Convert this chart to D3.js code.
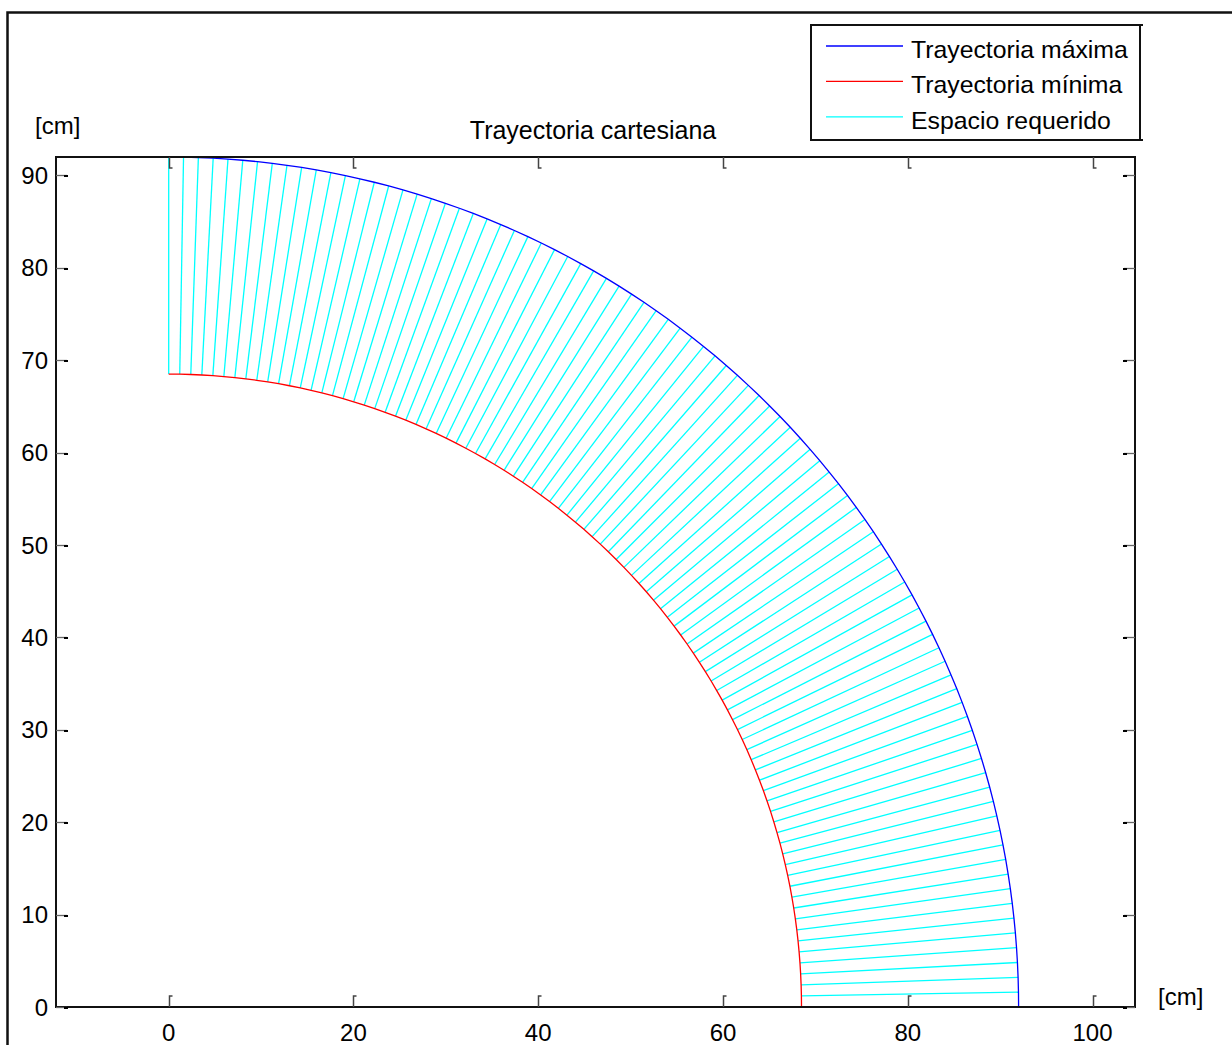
<!DOCTYPE html>
<html>
<head>
<meta charset="utf-8">
<title>Trayectoria cartesiana</title>
<script src="https://cdn.jsdelivr.net/npm/d3@7"></script>
<style>
  body { margin: 0; background: #fff; }
  svg { display: block; }
  text { font-family: Arial, "Liberation Sans", Helvetica, sans-serif; fill: #000; }
</style>
</head>
<body>
<script>
// Sweep of the arm, one sample per degree (0° = along the x axis, 90° = along y)
const angleDeg = [
  0, 1, 2, 3, 4, 5, 6, 7, 8, 9, 10, 11, 12, 13, 14, 15, 16, 17, 18, 19,
  20, 21, 22, 23, 24, 25, 26, 27, 28, 29, 30, 31, 32, 33, 34, 35, 36, 37, 38, 39,
  40, 41, 42, 43, 44, 45, 46, 47, 48, 49, 50, 51, 52, 53, 54, 55, 56, 57, 58, 59,
  60, 61, 62, 63, 64, 65, 66, 67, 68, 69, 70, 71, 72, 73, 74, 75, 76, 77, 78, 79,
  80, 81, 82, 83, 84, 85, 86, 87, 88, 89, 90
];
// Minimum reach [cm] at each angle
const rMin = [
  68.5, 68.5, 68.5, 68.5, 68.5, 68.5, 68.5, 68.5, 68.5, 68.5, 68.5, 68.5, 68.5, 68.5, 68.5, 68.5, 68.5, 68.5, 68.5, 68.5,
  68.5, 68.5, 68.5, 68.5, 68.5, 68.5, 68.5, 68.5, 68.5, 68.5, 68.5, 68.5, 68.5, 68.5, 68.5, 68.5, 68.5, 68.5, 68.5, 68.5,
  68.5, 68.5, 68.5, 68.5, 68.5, 68.5, 68.5, 68.5, 68.5, 68.5, 68.5, 68.5, 68.5, 68.5, 68.5, 68.5, 68.5, 68.5, 68.5, 68.5,
  68.5, 68.5, 68.5, 68.5, 68.5, 68.5, 68.5, 68.5, 68.5, 68.5, 68.5, 68.5, 68.5, 68.5, 68.5, 68.5, 68.5, 68.5, 68.5, 68.5,
  68.5, 68.5, 68.5, 68.5, 68.5, 68.5, 68.5, 68.5, 68.5, 68.5, 68.5
];
// Maximum reach [cm] at each angle
const rMax = [
  92.0, 92.0, 92.0, 92.0, 92.0, 92.0, 92.0, 92.0, 92.0, 92.0, 92.0, 92.0, 92.0, 92.0, 92.0, 92.0, 92.0, 92.0, 92.0, 92.0,
  92.0, 92.0, 92.0, 92.0, 92.0, 92.0, 92.0, 92.0, 92.0, 92.0, 92.0, 92.0, 92.0, 92.0, 92.0, 92.0, 92.0, 92.0, 92.0, 92.0,
  92.0, 92.0, 92.0, 92.0, 92.0, 92.0, 92.0, 92.0, 92.0, 92.0, 92.0, 92.0, 92.0, 92.0, 92.0, 92.0, 92.0, 92.0, 92.0, 92.0,
  92.0, 92.0, 92.0, 92.0, 92.0, 92.0, 92.0, 92.0, 92.0, 92.0, 92.0, 92.0, 92.0, 92.0, 92.0, 92.0, 92.0, 92.0, 92.0, 92.0,
  92.0, 92.0, 92.0, 92.0, 92.0, 92.0, 92.0, 92.0, 92.0, 92.0, 92.0
];

const xTicks = [0, 20, 40, 60, 80, 100];
const yTicks = [0, 10, 20, 30, 40, 50, 60, 70, 80, 90];
const xDomain = [-12.2, 104.6];
const yDomain = [0, 92];
const legendLabels = ["Trayectoria máxima", "Trayectoria mínima", "Espacio requerido"];
const legendColors = ["#0000ff", "#ff0000", "#00ffff"];
const chartTitle = "Trayectoria cartesiana";
const unitLabel = "[cm]";

const W = 1232, H = 1045;
const box = { left: 56, right: 1135, top: 157, bottom: 1007 };

const svg = d3.select("body").append("svg")
  .attr("width", W).attr("height", H);

const x = d3.scaleLinear().domain(xDomain).range([box.left, box.right]);
const y = d3.scaleLinear().domain(yDomain).range([box.bottom, box.top]);

// polar samples -> cartesian points
const rad = d => d * Math.PI / 180;
const samples = angleDeg.map((a, i) => ({
  inner: [rMin[i] * Math.cos(rad(a)), rMin[i] * Math.sin(rad(a))],
  outer: [rMax[i] * Math.cos(rad(a)), rMax[i] * Math.sin(rad(a))]
}));

// figure frame (left and top edges)
svg.append("path")
  .attr("d", `M7.5,${H} V12.5 H${W}`)
  .attr("fill", "none").attr("stroke", "#111").attr("stroke-width", 2.5);

svg.append("clipPath").attr("id", "plot-clip")
  .append("rect")
  .attr("x", box.left).attr("y", box.top - 1)
  .attr("width", box.right - box.left).attr("height", box.bottom - box.top + 2);

const plot = svg.append("g").attr("clip-path", "url(#plot-clip)");

// required space: one segment per sample from min to max reach
plot.append("g").selectAll("line")
  .data(samples).join("line")
  .attr("x1", d => x(d.inner[0])).attr("y1", d => y(d.inner[1]))
  .attr("x2", d => x(d.outer[0])).attr("y2", d => y(d.outer[1]))
  .attr("stroke", legendColors[2]).attr("stroke-width", 1.3);

const line = d3.line().x(p => x(p[0])).y(p => y(p[1]));

plot.append("path")
  .attr("d", line(samples.map(s => s.outer)))
  .attr("fill", "none").attr("stroke", legendColors[0]).attr("stroke-width", 1.3);

plot.append("path")
  .attr("d", line(samples.map(s => s.inner)))
  .attr("fill", "none").attr("stroke", legendColors[1]).attr("stroke-width", 1.3);

// axes box
svg.append("rect")
  .attr("x", box.left).attr("y", box.top)
  .attr("width", box.right - box.left).attr("height", box.bottom - box.top)
  .attr("fill", "none").attr("stroke", "#111").attr("stroke-width", 2);

// inward tick marks on all four sides, with a small end hook
const ticks = svg.append("g");
const tickLen = 11;
xTicks.forEach(v => {
  const px = Math.round(x(v)) + 0.5;
  ticks.append("path")
    .attr("d", `M${px},${box.bottom} V${box.bottom - tickLen} h3`)
    .attr("fill", "none").attr("stroke", "#444").attr("stroke-width", 1.5);
  ticks.append("path")
    .attr("d", `M${px},${box.top} V${box.top + tickLen} h3`)
    .attr("fill", "none").attr("stroke", "#444").attr("stroke-width", 1.5);
});
yTicks.forEach(v => {
  const py = Math.round(y(v)) + 0.5;
  ticks.append("path")
    .attr("d", `M${box.left},${py} H${box.left + tickLen}`)
    .attr("fill", "none").attr("stroke", "#666").attr("stroke-width", 1.3);
  ticks.append("path")
    .attr("d", `M${box.left + tickLen - 3},${py + 0.5} H${box.left + tickLen + 1}`)
    .attr("fill", "none").attr("stroke", "#000").attr("stroke-width", 2);
  ticks.append("path")
    .attr("d", `M${box.right},${py} H${box.right - tickLen}`)
    .attr("fill", "none").attr("stroke", "#666").attr("stroke-width", 1.3);
  ticks.append("path")
    .attr("d", `M${box.right - tickLen - 1},${py + 0.5} H${box.right - tickLen + 3}`)
    .attr("fill", "none").attr("stroke", "#000").attr("stroke-width", 2);
});

// tick labels
const fs = 24;
svg.append("g").selectAll("text")
  .data(xTicks).join("text")
  .attr("x", d => x(d)).attr("y", box.bottom + 34)
  .attr("text-anchor", "middle").attr("font-size", fs)
  .text(d => d);

svg.append("g").selectAll("text")
  .data(yTicks).join("text")
  .attr("x", box.left - 8).attr("y", d => y(d) + 8.6)
  .attr("text-anchor", "end").attr("font-size", fs)
  .text(d => d);

// unit labels and title
svg.append("text").attr("x", 35).attr("y", 134).attr("font-size", fs).text(unitLabel);
svg.append("text").attr("x", 1158).attr("y", 1005).attr("font-size", fs).text(unitLabel);
svg.append("text")
  .attr("x", 593).attr("y", 139)
  .attr("text-anchor", "middle").attr("font-size", 25)
  .text(chartTitle);

// legend
const lg = svg.append("g");
lg.append("rect")
  .attr("x", 811).attr("y", 25).attr("width", 329).attr("height", 115)
  .attr("fill", "#fff").attr("stroke", "#111").attr("stroke-width", 2);
lg.append("path").attr("d", "M1140,25 h3 M1140,140 h3")
  .attr("stroke", "#111").attr("stroke-width", 2);
legendLabels.forEach((lab, i) => {
  const cy = 46 + i * 35.4;
  lg.append("line")
    .attr("x1", 826).attr("x2", 903).attr("y1", cy).attr("y2", cy)
    .attr("stroke", legendColors[i]).attr("stroke-width", 1.3);
  lg.append("text")
    .attr("x", 911).attr("y", cy + 12)
    .attr("font-size", 24.8).text(lab);
});
</script>
</body>
</html>
